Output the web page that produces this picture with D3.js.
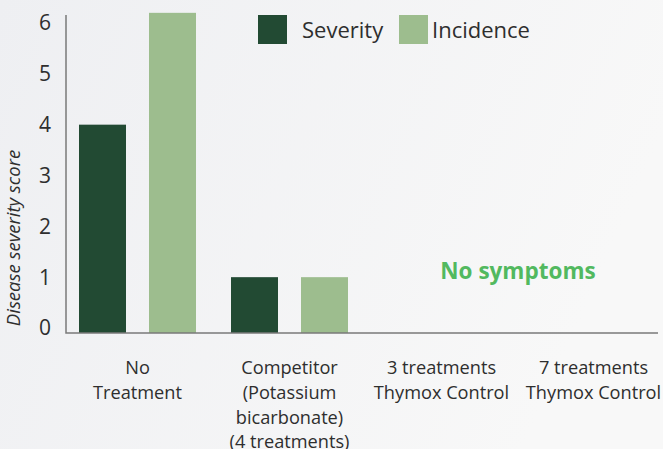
<!DOCTYPE html>
<html>
<head>
<meta charset="utf-8">
<script src="https://cdn.jsdelivr.net/npm/d3@7"></script>
<style>
    body { margin: 0; background: #f3f3f4; }
    svg { display: block; font-family: "Open Sans", sans-serif; }
</style>
</head>
<body>
<svg></svg>
<script>
const width = 663;
const height = 449;

// данные графика
const categories = ["No Treatment", "Competitor", "3 treatments", "7 treatments"];
const categoryLines = [
    ["No", "Treatment"],
    ["Competitor", "(Potassium", "bicarbonate)", "(4 treatments)"],
    ["3 treatments", "Thymox Control"],
    ["7 treatments", "Thymox Control"]
];
const severity = [4, 1, 0, 0];
const incidence = [6.2, 1, 0, 0];
const seriesNames = ["Severity", "Incidence"];
const yTicks = [0, 1, 2, 3, 4, 5, 6];

const colors = ["#224a33", "#9dbd8e"];
const baseY = 333;
const axisX0 = 66;
const axisX1 = 658;

let svg = d3.select("svg")
    .attr("width", width)
    .attr("height", height);

// фон с лёгким градиентом
let defs = svg.append("defs");
let grad = defs.append("linearGradient")
    .attr("id", "bg")
    .attr("x1", "0").attr("y1", "0")
    .attr("x2", "1").attr("y2", "0.3");
grad.append("stop").attr("offset", "0").attr("stop-color", "#eeeff2");
grad.append("stop").attr("offset", "1").attr("stop-color", "#f8f8f8");
svg.append("rect")
    .attr("width", width)
    .attr("height", height)
    .attr("fill", "url(#bg)");

// шкалы
let scaleX = d3.scaleBand()
    .domain(categories)
    .range([61.5, 669.5]);
let scaleSeries = d3.scaleBand()
    .domain(seriesNames)
    .range([17.5, 134.5])
    .paddingInner(23 / 70);
let scaleY = d3.scaleLinear()
    .domain([0, 6])
    .range([328, 23]);

// столбцы
let groups = svg.selectAll(".group")
    .data(categories)
    .enter()
    .append("g")
    .attr("transform", d => `translate(${scaleX(d)}, 0)`);

groups.each(function (cat, i) {
    let vals = [severity[i], incidence[i]];
    d3.select(this).selectAll("rect")
        .data(vals.map((v, j) => ({ name: seriesNames[j], value: v })).filter(d => d.value > 0))
        .enter()
        .append("rect")
        .attr("x", d => scaleSeries(d.name))
        .attr("width", scaleSeries.bandwidth())
        .attr("y", d => scaleY(d.value))
        .attr("height", d => baseY - scaleY(d.value))
        .attr("fill", d => colors[seriesNames.indexOf(d.name)]);
});

// оси
svg.append("path")
    .attr("d", `M${axisX0},15V${baseY}H${axisX1}`)
    .attr("fill", "none")
    .attr("stroke", "#7a7a7a")
    .attr("stroke-width", 1.5);

// подписи оси Y
svg.selectAll(".ytick")
    .data(yTicks)
    .enter()
    .append("text")
    .attr("x", 45)
    .attr("y", d => scaleY(d))
    .attr("dy", "0.35em")
    .attr("text-anchor", "middle")
    .attr("font-size", 21)
    .attr("fill", "#2e2e2e")
    .text(d => d);

// название оси Y
svg.append("text")
    .attr("transform", "translate(20, 238) rotate(-90)")
    .attr("text-anchor", "middle")
    .attr("font-size", 18.5)
    .attr("font-style", "italic")
    .attr("fill", "#2e2e2e")
    .text("Disease severity score");

// подписи категорий
let labels = svg.selectAll(".xlabel")
    .data(categories)
    .enter()
    .append("text")
    .attr("text-anchor", "middle")
    .attr("font-size", 18.2)
    .attr("fill", "#2e2e2e")
    .attr("transform", d => `translate(${scaleX(d) + scaleX.bandwidth() / 2}, 368)`);
labels.selectAll("tspan")
    .data((d, i) => categoryLines[i])
    .enter()
    .append("tspan")
    .attr("x", 0)
    .attr("y", (d, i) => i * 24.6)
    .attr("dy", "0.35em")
    .text(d => d);

// надпись "No symptoms"
svg.append("text")
    .attr("x", 518)
    .attr("y", 271)
    .attr("dy", "0.35em")
    .attr("text-anchor", "middle")
    .attr("font-size", 22.5)
    .attr("font-weight", "bold")
    .attr("fill", "#52b95f")
    .text("No symptoms");

// легенда
const legendX = [258, 399];
let legend = svg.selectAll(".legend")
    .data(seriesNames)
    .enter()
    .append("g")
    .attr("transform", (d, i) => `translate(${legendX[i]}, 15)`);
legend.append("rect")
    .attr("width", 29)
    .attr("height", 29)
    .attr("fill", (d, i) => colors[i]);
legend.append("text")
    .attr("x", (d, i) => i == 0 ? 44 : 33)
    .attr("y", 15)
    .attr("dy", "0.35em")
    .attr("font-size", 22)
    .attr("fill", "#2e2e2e")
    .text(d => d);
</script>
</body>
</html>
